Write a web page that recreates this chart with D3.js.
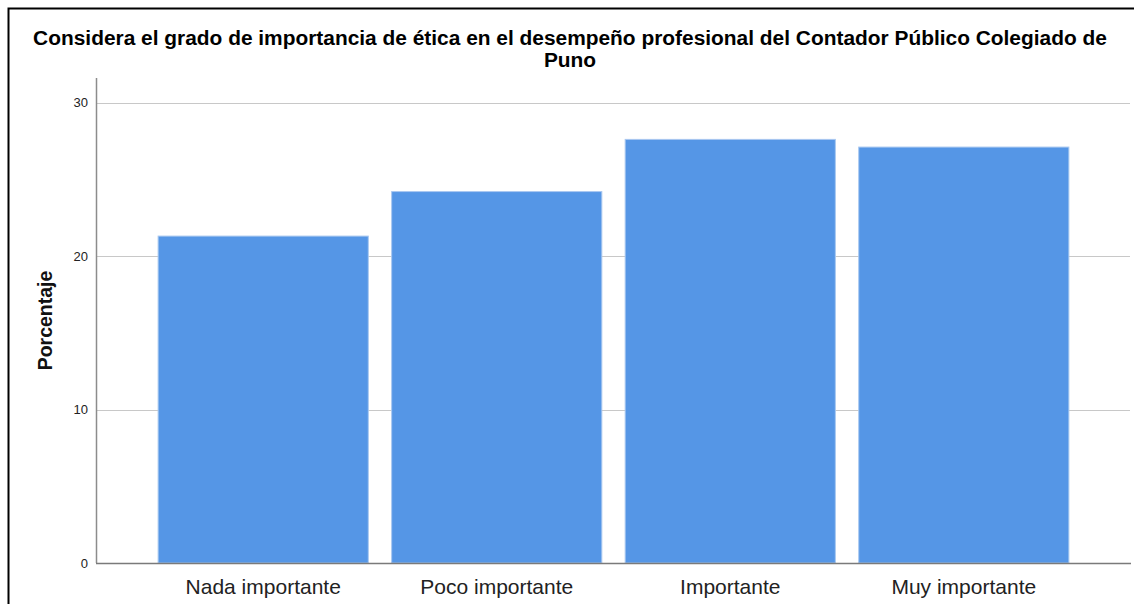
<!DOCTYPE html>
<html>
<head>
<meta charset="utf-8">
<script src="https://cdn.jsdelivr.net/npm/d3@7"></script>
<style>
  body { margin: 0; background: #fff; overflow: hidden; }
  svg { display: block; font-family: "Liberation Sans", Arial, sans-serif; }
</style>
</head>
<body>
<div id="chart"></div>
<script>
const categories = ['Nada importante', 'Poco importante', 'Importante', 'Muy importante'];
const percentages = [21.3, 24.2, 27.6, 27.1];
const yTicks = [0, 10, 20, 30];
const titleLines = [
  'Considera el grado de importancia de ética en el desempeño profesional del Contador Público Colegiado de',
  'Puno'
];

const width = 1134, height = 604;
const plot = { left: 96, right: 1131, top: 78, bottom: 563 };

const svg = d3.select('#chart').append('svg')
  .attr('width', width)
  .attr('height', height);

svg.append('rect')
  .attr('x', 0).attr('y', 0)
  .attr('width', width).attr('height', height)
  .attr('fill', '#fff');

// frame (runs off right/bottom edge like the screenshot)
svg.append('rect')
  .attr('x', 8.5).attr('y', 8.5)
  .attr('width', width + 20).attr('height', height + 20)
  .attr('fill', 'none')
  .attr('stroke', '#000')
  .attr('stroke-width', 2);

const x = d3.scaleBand()
  .domain(categories)
  .range([plot.left, plot.right])
  .paddingInner(0.1)
  .paddingOuter(0.266);

const y = d3.scaleLinear()
  .domain([0, 31.6])
  .range([plot.bottom, plot.top]);

// gridlines
svg.append('g')
  .selectAll('line')
  .data(yTicks.filter(d => d > 0))
  .enter().append('line')
  .attr('x1', plot.left).attr('x2', plot.right - 1)
  .attr('y1', d => Math.round(y(d)) + 0.5)
  .attr('y2', d => Math.round(y(d)) + 0.5)
  .attr('stroke', '#c8c8c8')
  .attr('stroke-width', 1);

// bars
svg.append('g')
  .selectAll('rect')
  .data(percentages)
  .enter().append('rect')
  .attr('x', (d, i) => x(categories[i]))
  .attr('y', d => y(d))
  .attr('width', x.bandwidth())
  .attr('height', d => y(0) - y(d))
  .attr('fill', '#5596e6')
  .attr('stroke', '#a9c8f0')
  .attr('stroke-width', 1);

// y axis
const yAxis = svg.append('g')
  .attr('transform', `translate(${plot.left},0)`)
  .call(d3.axisLeft(y).tickValues(yTicks).tickSize(0).tickPadding(8));
yAxis.select('.domain')
  .attr('d', `M0.5,${plot.top}V${plot.bottom}`)
  .attr('stroke', '#8c8c8c')
  .attr('stroke-width', 1.5);
yAxis.selectAll('text')
  .attr('font-size', 13)
  .attr('fill', '#222')
  .style('font-family', '"Liberation Sans", Arial, sans-serif');

// x axis
const xAxis = svg.append('g')
  .attr('transform', `translate(0,${plot.bottom})`)
  .call(d3.axisBottom(x).tickSize(0).tickPadding(16));
xAxis.select('.domain')
  .attr('d', `M${plot.left},0.5H${plot.right}`)
  .attr('stroke', '#7a7a7a')
  .attr('stroke-width', 1.5);
xAxis.selectAll('text')
  .attr('font-size', 21)
  .attr('fill', '#222')
  .style('font-family', '"Liberation Sans", Arial, sans-serif');

// y axis title
svg.append('text')
  .attr('transform', `translate(52,${(plot.top + plot.bottom) / 2}) rotate(-90)`)
  .attr('text-anchor', 'middle')
  .attr('font-size', 19.5)
  .attr('font-weight', 'bold')
  .attr('fill', '#111')
  .text('Porcentaje');

// chart title
svg.append('g')
  .selectAll('text')
  .data(titleLines)
  .enter().append('text')
  .attr('x', 570)
  .attr('y', (d, i) => 45 + i * 22)
  .attr('text-anchor', 'middle')
  .attr('font-size', 20.9)
  .attr('font-weight', 'bold')
  .attr('fill', '#000')
  .text(d => d);
</script>
</body>
</html>
